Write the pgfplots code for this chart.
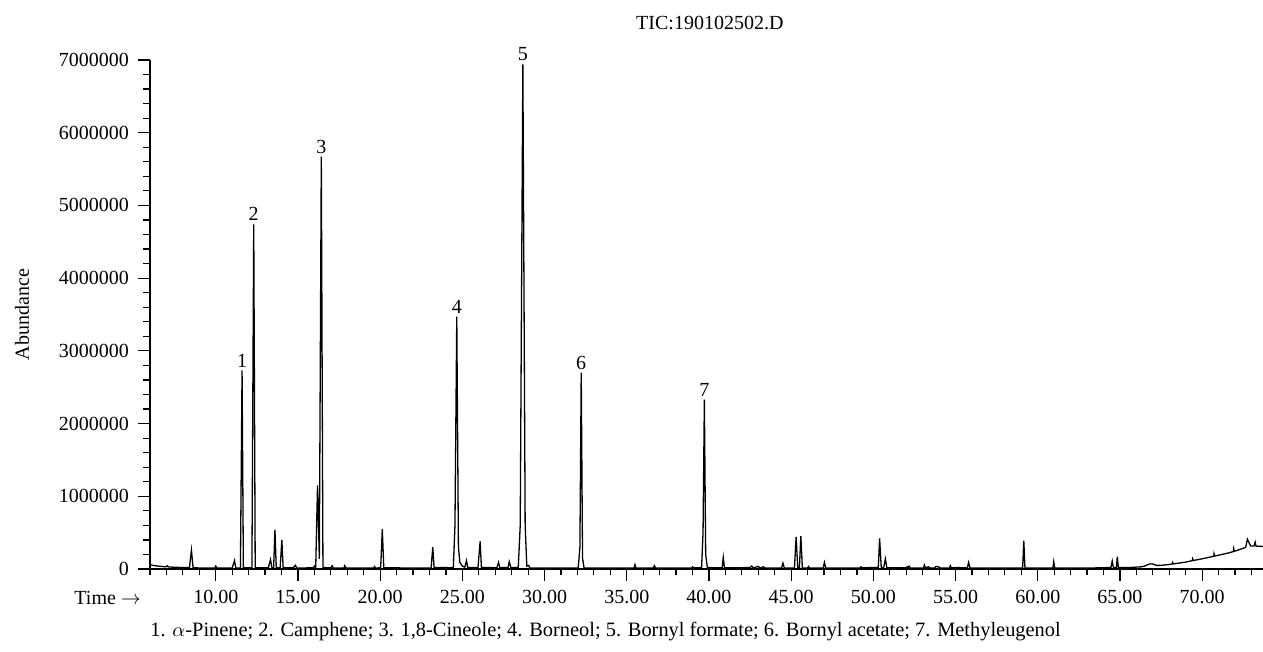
\documentclass[border=0pt]{standalone}
\usepackage{fontspec}
\setmainfont{Liberation Serif}
\usepackage{pgfplots}
\pgfplotsset{compat=1.18}
\begin{document}
\begin{tikzpicture}[font=\fontsize{10}{12}\selectfont]
\useasboundingbox (-75pt,-41.5pt) rectangle (556.5pt,284.5pt);
\begin{axis}[
  scale only axis, width=556.5pt, height=254.5pt,
  xmin=6, xmax=73.7, ymin=0, ymax=7000000,
  axis x line=bottom, axis y line=left,
  axis line style={-, line width=0.6pt},
  tick align=outside, major tick length=6pt, minor tick length=3.25pt,
  every tick/.style={line width=0.6pt, black},
  xtick={10,15,20,25,30,35,40,45,50,55,60,65,70},
  minor xtick={6,7,...,73},
  ytick={0,1000000,2000000,3000000,4000000,5000000,6000000,7000000},
  minor y tick num=4,
  scaled y ticks=false, scaled x ticks=false,
  /pgf/number format/assume math mode=true,
  yticklabel style={/pgf/number format/fixed, /pgf/number format/1000 sep={}, xshift=-1pt},
  xticklabel style={/pgf/number format/fixed, /pgf/number format/fixed zerofill, /pgf/number format/precision=2, yshift=-1pt},
  title={TIC:190102502.D},
  title style={at={(axis description cs:0.503,1)}, anchor=center, yshift=12.5pt},
  ylabel={Abundance},
  ylabel style={at={(axis description cs:-0.115,0.5)}, anchor=center},
  clip=false,
]
\addplot[black, line width=0.65pt] coordinates {
(6.00,60000) (6.20,48000) (6.50,40000) (6.80,33000) (7.00,30000) (7.05,45000) (7.12,28000)
(7.50,24000) (8.00,20000) (8.40,18000) (8.52,260000) (8.62,20000) (8.80,16000) (9.00,14000)
(9.40,14000) (9.95,15000) (10.00,40000) (10.08,14000) (10.50,12000) (11.00,13000)
(11.14,115000) (11.22,14000) (11.50,14000) (11.60,2730000) (11.68,16000) (12.20,16000)
(12.31,4740000) (12.40,16000) (13.20,16000) (13.33,130000) (13.42,16000) (13.52,18000)
(13.60,540000) (13.68,18000) (13.92,17000) (14.02,400000) (14.10,17000) (14.70,15000)
(14.85,50000) (14.92,15000) (15.50,15000) (15.95,18000) (16.00,40000) (16.08,20000)
(16.19,1150000) (16.30,140000) (16.42,5670000) (16.52,20000) (17.00,16000) (17.08,45000)
(17.15,15000) (17.80,15000) (17.85,45000) (17.92,15000) (18.30,14000) (19.60,14000)
(19.65,35000) (19.72,14000) (20.03,16000) (20.13,550000) (20.22,17000) (21.80,14000)
(23.10,15000) (23.20,300000) (23.28,20000) (24.45,18000) (24.55,600000) (24.66,3470000)
(24.76,300000) (24.85,90000) (25.00,40000) (25.15,25000) (25.25,115000) (25.33,20000)
(25.95,18000) (26.08,380000) (26.16,20000) (27.10,18000) (27.20,90000) (27.28,18000)
(27.78,20000) (27.85,100000) (27.95,20000) (28.40,20000) (28.52,600000) (28.68,6940000)
(28.82,600000) (28.92,40000) (29.03,50000) (29.10,15000) (32.05,15000) (32.15,300000)
(32.23,2700000) (32.31,150000) (32.40,15000) (35.45,15000) (35.50,60000) (35.55,15000)
(36.62,15000) (36.68,45000) (36.75,15000) (38.95,15000) (39.00,30000) (39.06,15000)
(39.55,18000) (39.64,500000) (39.72,2330000) (39.80,200000) (39.90,20000) (40.80,15000)
(40.87,160000) (40.94,15000) (42.50,20000) (42.60,40000) (42.70,15000) (43.00,35000)
(43.10,15000) (43.30,30000) (43.40,15000) (44.42,15000) (44.50,80000) (44.58,15000)
(45.20,15000) (45.30,440000) (45.40,20000) (45.50,20000) (45.59,450000) (45.68,15000)
(46.00,15000) (46.05,35000) (46.12,15000) (46.95,15000) (47.02,90000) (47.10,15000)
(49.20,15000) (49.25,30000) (49.35,15000) (49.80,20000) (50.30,20000) (50.38,420000)
(50.48,20000) (50.63,20000) (50.73,140000) (50.82,18000) (52.00,15000) (52.05,30000)
(52.10,15000) (52.17,40000) (52.25,15000) (53.05,15000) (53.10,55000) (53.17,15000)
(53.35,30000) (53.45,15000) (53.75,15000) (53.80,35000) (53.95,30000) (54.05,15000)
(54.63,15000) (54.68,45000) (54.75,15000) (55.10,20000) (55.72,15000) (55.79,90000)
(55.88,15000) (56.80,15000) (57.80,15000) (59.08,15000) (59.15,390000) (59.22,15000)
(60.92,15000) (60.97,100000) (61.03,15000) (62.00,15000) (63.50,15000) (64.45,20000)
(64.53,110000) (64.60,20000) (64.78,20000) (64.84,170000) (64.90,20000) (65.50,20000)
(66.30,30000) (66.50,40000) (66.80,70000) (67.00,70000) (67.20,50000) (67.50,50000)
(68.00,62000) (68.18,70000) (68.20,90000) (68.25,70000) (69.00,95000) (69.40,115000)
(69.42,140000) (69.46,117000) (70.00,140000) (70.70,175000) (70.72,210000) (70.76,178000)
(71.50,215000) (71.90,240000) (71.92,280000) (71.96,243000) (72.50,285000) (72.65,300000)
(72.75,410000) (72.95,315000) (73.15,315000) (73.22,370000) (73.27,315000) (73.70,310000)
};
\node[anchor=south, inner sep=1.5pt] at (axis cs:11.60,2730000) {1};
\node[anchor=south, inner sep=1.5pt] at (axis cs:12.31,4740000) {2};
\node[anchor=south, inner sep=1.5pt] at (axis cs:16.42,5670000) {3};
\node[anchor=south, inner sep=1.5pt] at (axis cs:24.66,3470000) {4};
\node[anchor=south, inner sep=1.5pt] at (axis cs:28.68,6940000) {5};
\node[anchor=south, inner sep=1.5pt] at (axis cs:32.23,2700000) {6};
\node[anchor=south, inner sep=1.5pt] at (axis cs:39.72,2330000) {7};
\node[anchor=east, xshift=-1pt, yshift=-14.5pt] at (rel axis cs:0,0) {Time $\rightarrow$};
\node[anchor=west, yshift=-31.5pt, inner sep=0pt, font=\fontsize{10.2}{12}\selectfont] at (rel axis cs:0,0) {1. $\alpha$-Pinene; 2. Camphene; 3. 1,8-Cineole; 4. Borneol; 5. Bornyl formate; 6. Bornyl acetate; 7. Methyleugenol};
\end{axis}
\end{tikzpicture}
\end{document}
